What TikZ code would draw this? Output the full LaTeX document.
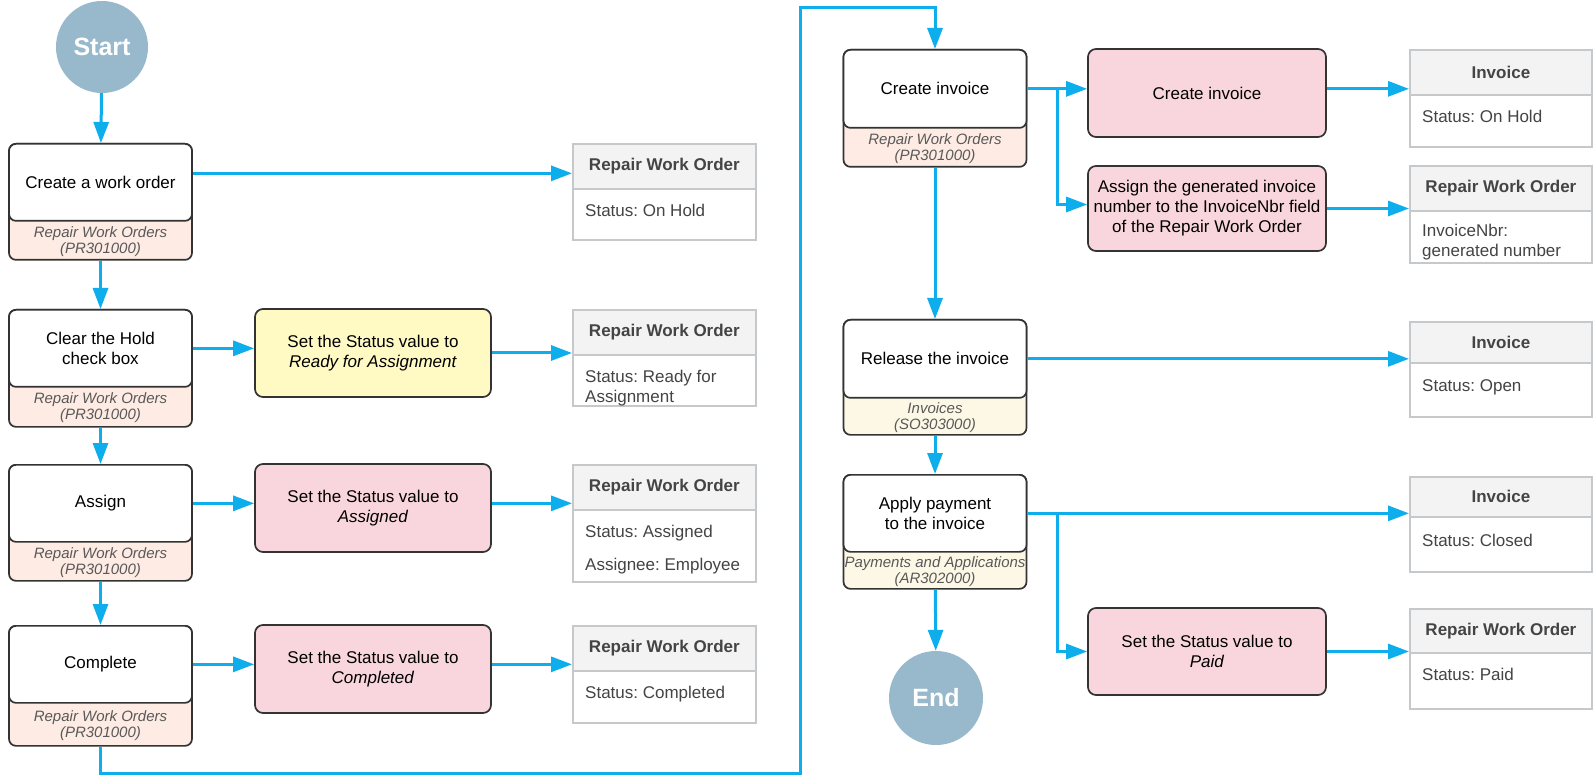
\documentclass[tikz,border=0pt]{standalone}
\usepackage{fontspec}
\setmainfont{Liberation Sans}
\usetikzlibrary{arrows.meta,calc}
\frenchspacing

\definecolor{flow}{RGB}{14,173,236}
\definecolor{edge}{RGB}{51,51,51}
\definecolor{peach}{RGB}{253,235,228}
\definecolor{cream}{RGB}{253,247,229}
\definecolor{pinkfill}{RGB}{249,214,221}
\definecolor{yellowfill}{RGB}{255,249,196}
\definecolor{circfill}{RGB}{152,185,204}
\definecolor{entedge}{RGB}{197,201,203}
\definecolor{enthead}{RGB}{243,243,243}
\definecolor{subgray}{RGB}{89,89,89}
\definecolor{entgray}{RGB}{68,68,68}

\newcommand\mainfs{\fontsize{17}{20}\selectfont}
\newcommand\subfs{\fontsize{15}{16}\selectfont\itshape}
\newcommand\headfs{\fontsize{17}{20}\selectfont\bfseries}

\tikzset{
  conn/.style={draw=flow, line width=3pt},
  arr/.style={conn, -{Triangle[length=21pt,width=15pt]}},
  stepfull/.style={draw=edge, line width=1.7pt, rounded corners=7pt,
    minimum width=183pt, inner sep=0pt, anchor=north},
  steptop/.style={draw=edge, line width=1.7pt, rounded corners=7pt, fill=white,
    minimum width=183pt, minimum height=77pt, inner sep=0pt, anchor=north,
    align=center, font=\mainfs, text=black},
  subtxt/.style={align=center, font=\subfs, text=subgray, inner sep=0pt},
  action/.style={draw=edge, line width=1.7pt, rounded corners=8pt,
    inner sep=0pt, align=center, font=\mainfs, text=black},
  entbox/.style={draw=entedge, line width=1.8pt, fill=white, inner sep=0pt,
    anchor=north west},
  enthd/.style={draw=entedge, line width=1.8pt, fill=enthead, inner sep=0pt,
    anchor=north west, minimum height=45pt, font=\headfs, text=entgray},
  enttxt/.style={anchor=north west, align=left, inner sep=0pt,
    font=\mainfs, text=entgray},
  terminal/.style={circle, fill=circfill, inner sep=0pt, text=white,
    font=\fontsize{25}{28}\selectfont\bfseries},
}

\begin{document}
\begin{tikzpicture}[x=1pt,y=-1pt]
\fill[white] (0,0) rectangle (1593,775);
\useasboundingbox (0,0) rectangle (1593,775);

% ---------- terminals ----------
\node[terminal, minimum size=92pt] (start) at (102,47) {Start};
\node[terminal, minimum size=94pt] (end) at (936,698) {End};

% ---------- left column: work order steps ----------
\node[stepfull, fill=peach, minimum height=116pt] (s1f) at (100.5,143) {};
\node[steptop] (s1) at (100.5,143) {Create a work order};
\node[subtxt] (s1s) at ($(s1.south)!0.5!(s1f.south)$) {Repair Work Orders\\(PR301000)};

\node[stepfull, fill=peach, minimum height=117pt] (s2f) at (100.5,309) {};
\node[steptop] (s2) at (100.5,309) {Clear the Hold\\check box};
\node[subtxt] (s2s) at ($(s2.south)!0.5!(s2f.south)$) {Repair Work Orders\\(PR301000)};

\node[stepfull, fill=peach, minimum height=116pt] (s3f) at (100.5,464) {};
\node[steptop] (s3) at (100.5,464) {Assign};
\node[subtxt] (s3s) at ($(s3.south)!0.5!(s3f.south)$) {Repair Work Orders\\(PR301000)};

\node[stepfull, fill=peach, minimum height=120pt] (s4f) at (100.5,625) {};
\node[steptop] (s4) at (100.5,625) {Complete};
\node[subtxt] (s4s) at ($(s4.south)!0.5!(s4f.south)$) {Repair Work Orders\\(PR301000)};

% ---------- left column: status actions ----------
\node[action, fill=yellowfill, minimum width=236pt, minimum height=88pt] (p1) at (373,353)
  {Set the Status value to\\\textit{Ready for Assignment}};
\node[action, fill=pinkfill, minimum width=236pt, minimum height=88pt] (p2) at (373,508)
  {Set the Status value to\\\textit{Assigned}};
\node[action, fill=pinkfill, minimum width=236pt, minimum height=88pt] (p3) at (373,669)
  {Set the Status value to\\\textit{Completed}};

% ---------- left column: records ----------
\node[entbox, minimum width=183pt, minimum height=96pt] (e1) at (572,143) {};
\node[enthd, minimum width=183pt] (e1h) at (572,143) {Repair Work Order};
\node[enttxt] (e1t) at ($(e1h.south west)+(13,14)$) {Status: On Hold};

\node[entbox, minimum width=183pt, minimum height=96pt] (e2) at (572,309) {};
\node[enthd, minimum width=183pt] (e2h) at (572,309) {Repair Work Order};
\node[enttxt] (e2t) at ($(e2h.south west)+(13,14)$) {Status: Ready for\\Assignment};

\node[entbox, minimum width=183pt, minimum height=117pt] (e3) at (572,464) {};
\node[enthd, minimum width=183pt] (e3h) at (572,464) {Repair Work Order};
\node[enttxt] (e3t) at ($(e3h.south west)+(13,14)$) {Status: Assigned\\[13pt]Assignee: Employee};

\node[entbox, minimum width=183pt, minimum height=97pt] (e4) at (572,625) {};
\node[enthd, minimum width=183pt] (e4h) at (572,625) {Repair Work Order};
\node[enttxt] (e4t) at ($(e4h.south west)+(13,14)$) {Status: Completed};

% ---------- right column: invoice steps ----------
\node[stepfull, fill=peach, minimum height=117pt] (s5f) at (935,49) {};
\node[steptop, minimum height=78pt] (s5) at (935,49) {Create invoice};
\node[subtxt] (s5s) at ($(s5.south)!0.5!(s5f.south)$) {Repair Work Orders\\(PR301000)};

\node[stepfull, fill=cream, minimum height=115pt] (s6f) at (935,319) {};
\node[steptop, minimum height=78pt] (s6) at (935,319) {Release the invoice};
\node[subtxt] (s6s) at ($(s6.south)!0.5!(s6f.south)$) {Invoices\\(SO303000)};

\node[stepfull, fill=cream, minimum height=114pt] (s7f) at (935,474) {};
\node[steptop, minimum height=77pt] (s7) at (935,474) {Apply payment\\to the invoice};
\node[subtxt] (s7s) at ($(s7.south)!0.5!(s7f.south)$) {Payments and Applications\\(AR302000)};

% ---------- right column: actions ----------
\node[action, fill=pinkfill, minimum width=238pt, minimum height=88pt] (p4) at (1207,93)
  {Create invoice};
\node[action, fill=pinkfill, minimum width=238pt, minimum height=85pt] (p5) at (1207,208.5)
  {Assign the generated invoice\\number to the InvoiceNbr field\\of the Repair Work Order};
\node[action, fill=pinkfill, minimum width=238pt, minimum height=87pt] (p6) at (1207,651.5)
  {Set the Status value to\\\textit{Paid}};

% ---------- right column: records ----------
\node[entbox, minimum width=182pt, minimum height=97pt] (e5) at (1409,49) {};
\node[enthd, minimum width=182pt] (e5h) at (1409,49) {Invoice};
\node[enttxt] (e5t) at ($(e5h.south west)+(13,14)$) {Status: On Hold};

\node[entbox, minimum width=182pt, minimum height=97pt] (e6) at (1409,165) {};
\node[enthd, minimum width=182pt] (e6h) at (1409,165) {Repair Work Order};
\node[enttxt] (e6t) at ($(e6h.south west)+(13,12)$) {InvoiceNbr:\\generated number};

\node[entbox, minimum width=182pt, minimum height=95pt] (e7) at (1409,321) {};
\node[enthd, minimum width=182pt, minimum height=41pt] (e7h) at (1409,321) {Invoice};
\node[enttxt] (e7t) at ($(e7h.south west)+(13,16)$) {Status: Open};

\node[entbox, minimum width=182pt, minimum height=95pt] (e8) at (1409,476) {};
\node[enthd, minimum width=182pt, minimum height=40pt] (e8h) at (1409,476) {Invoice};
\node[enttxt] (e8t) at ($(e8h.south west)+(13,16)$) {Status: Closed};

\node[entbox, minimum width=182pt, minimum height=100pt] (e9) at (1409,608) {};
\node[enthd, minimum width=182pt, minimum height=44pt] (e9h) at (1409,608) {Repair Work Order};
\node[enttxt] (e9t) at ($(e9h.south west)+(13,14)$) {Status: Paid};

% ---------- connectors: left column ----------
\draw[arr] (start) -- (s1);
\draw[arr] (s1f) -- (s2);
\draw[arr] (s2f) -- (s3);
\draw[arr] (s3f) -- (s4);

\coordinate (o1) at ($(s1.east)+(0,-9)$);
\draw[arr] (o1) -- (o1 -| e1.west);
\draw[arr] (s2.east) -- (s2.east -| p1.west);
\draw[arr] (p1.east) -- (p1.east -| e2.west);
\draw[arr] (s3.east) -- (s3.east -| p2.west);
\draw[arr] (p2.east |- s3.east) -- (s3.east -| e3.west);
\draw[arr] (s4.east) -- (s4.east -| p3.west);
\draw[arr] (p3.east |- s4.east) -- (s4.east -| e4.west);

% ---------- connector between the columns ----------
\coordinate (low) at ($(s4f.south)+(0,27)$);
\coordinate (top) at (800,8);
\draw[arr] (s4f.south) -- (low) -| (top) -| (s5.north);

% ---------- connectors: right column ----------
\draw[arr] (s5.east) -- (s5.east -| p4.west);
\coordinate (b1) at ($(s5.east)+(30,0)$);
\draw[arr] (b1) |- ($(p5.west)+(0,-4)$);
\draw[arr] (p4.east |- s5.east) -- (s5.east -| e5.west);
\draw[arr] (p5.east) -- (p5.east -| e6.west);

\draw[arr] (s5f) -- (s6);
\draw[arr] (s6.east) -- (s6.east -| e7.west);
\draw[arr] (s6f) -- (s7);

\draw[arr] (s7.east) -- (s7.east -| e8.west);
\coordinate (b2) at ($(s7.east)+(30,0)$);
\draw[arr] (b2) |- (p6.west);
\draw[arr] (p6.east) -- (p6.east -| e9.west);
\draw[arr] (s7f) -- (end);
\end{tikzpicture}
\end{document}
